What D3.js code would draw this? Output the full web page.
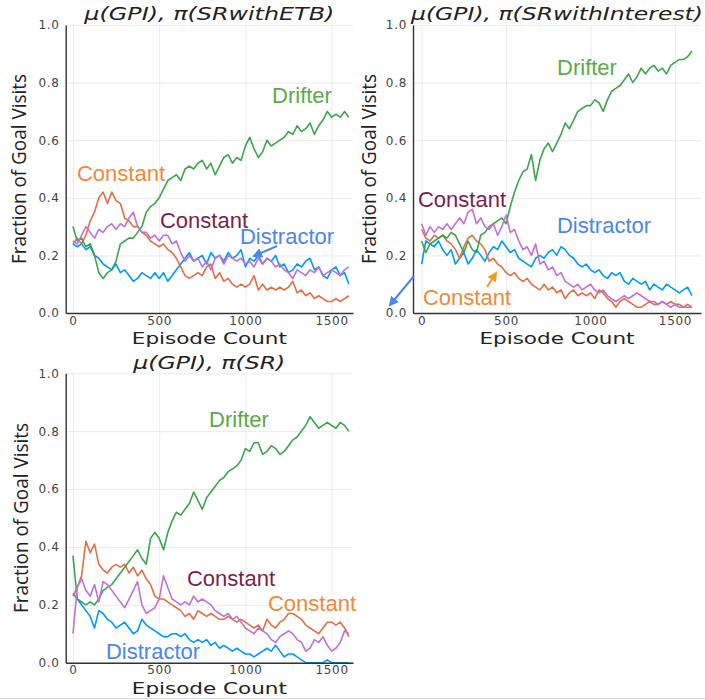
<!DOCTYPE html>
<html>
<head>
<meta charset="utf-8">
<script src="https://cdn.jsdelivr.net/npm/d3@7"></script>
<style>
  body { margin: 0; background: #fff; }
</style>
</head>
<body>
<div id="chart"></div>
<script>
// episode count at which each value was read (every 25 episodes)
const episodes = [0, 25, 50, 75, 100, 125, 150, 175, 200, 225, 250, 275, 300, 325, 350, 375, 400, 425, 450, 475,
  500, 525, 550, 575, 600, 625, 650, 675, 700, 725, 750, 775, 800, 825, 850, 875, 900, 925, 950, 975,
  1000, 1025, 1050, 1075, 1100, 1125, 1150, 1175, 1200, 1225, 1250, 1275, 1300, 1325, 1350, 1375, 1400, 1425, 1450, 1475,
  1500, 1525, 1550, 1575, 1600];

// mu(GPI), pi(SRwithETB)
const etbDistractor = [0.24,0.23,0.24,0.22,0.23,0.20,0.19,0.17,0.16,0.15, 0.17,0.14,0.15,0.13,0.11,0.12,0.14,0.13,0.12,0.14,
  0.12,0.14,0.11,0.13,0.15,0.17,0.19,0.21,0.18,0.19, 0.20,0.17,0.21,0.19,0.20,0.18,0.21,0.19,0.20,0.22,
  0.16,0.19,0.18,0.20,0.17,0.19,0.18,0.20,0.16,0.17, 0.14,0.15,0.17,0.16,0.18,0.19,0.15,0.16,0.13,0.12,
  0.15,0.16,0.13,0.14,0.10];
const etbConstantA = [0.24,0.26,0.24,0.27,0.32,0.35,0.40,0.42,0.38,0.42, 0.39,0.38,0.33,0.32,0.30,0.30,0.28,0.27,0.25,0.24,
  0.23,0.24,0.22,0.21,0.19,0.16,0.13,0.12,0.13,0.14, 0.13,0.16,0.17,0.12,0.14,0.11,0.12,0.10,0.09,0.10,
  0.09,0.10,0.13,0.08,0.10,0.08,0.09,0.08,0.09,0.08, 0.09,0.11,0.07,0.08,0.06,0.07,0.05,0.06,0.05,0.04,
  0.04,0.05,0.04,0.05,0.06];
const etbDrifter = [0.30,0.25,0.26,0.23,0.24,0.20,0.14,0.12,0.14,0.15, 0.18,0.24,0.25,0.26,0.26,0.28,0.30,0.35,0.37,0.38,
  0.40,0.43,0.46,0.47,0.48,0.46,0.50,0.51,0.50,0.52, 0.53,0.50,0.52,0.48,0.51,0.54,0.55,0.52,0.54,0.53,
  0.58,0.61,0.57,0.54,0.56,0.60,0.58,0.59,0.60,0.61, 0.63,0.62,0.65,0.63,0.64,0.66,0.62,0.65,0.67,0.70,
  0.68,0.69,0.68,0.70,0.68];
const etbConstantB = [0.25,0.24,0.27,0.30,0.28,0.26,0.29,0.28,0.30,0.31, 0.29,0.31,0.30,0.33,0.35,0.30,0.28,0.28,0.26,0.27,
  0.25,0.27,0.27,0.24,0.25,0.21,0.18,0.20,0.18,0.19, 0.16,0.18,0.15,0.19,0.20,0.17,0.20,0.19,0.18,0.19,
  0.17,0.18,0.16,0.19,0.17,0.19,0.18,0.16,0.17,0.15, 0.14,0.12,0.15,0.14,0.13,0.15,0.14,0.16,0.13,0.14,
  0.15,0.14,0.13,0.15,0.16];

// mu(GPI), pi(SRwithInterest)
const interestDistractor = [0.17,0.25,0.24,0.23,0.25,0.22,0.20,0.22,0.17,0.19, 0.21,0.17,0.19,0.22,0.20,0.18,0.21,0.23,0.22,0.25,
  0.23,0.21,0.22,0.19,0.18,0.17,0.16,0.19,0.20,0.19, 0.21,0.22,0.20,0.23,0.22,0.20,0.19,0.17,0.16,0.17,
  0.15,0.14,0.15,0.13,0.12,0.14,0.13,0.14,0.11,0.10, 0.12,0.11,0.10,0.11,0.08,0.10,0.09,0.08,0.10,0.09,
  0.08,0.07,0.08,0.09,0.06];
const interestConstantA = [0.29,0.26,0.25,0.27,0.26,0.27,0.25,0.24,0.22,0.19, 0.23,0.26,0.27,0.25,0.24,0.22,0.18,0.19,0.17,0.16,
  0.14,0.13,0.14,0.12,0.11,0.12,0.10,0.09,0.08,0.10, 0.08,0.09,0.07,0.08,0.05,0.07,0.08,0.06,0.07,0.06,
  0.07,0.05,0.08,0.07,0.05,0.04,0.02,0.04,0.05,0.04, 0.03,0.02,0.02,0.03,0.04,0.03,0.03,0.04,0.03,0.04,
  0.03,0.03,0.02,0.03,0.02];
const interestDrifter = [0.25,0.21,0.24,0.25,0.26,0.27,0.26,0.28,0.27,0.24, 0.21,0.25,0.22,0.21,0.27,0.28,0.30,0.31,0.32,0.33,
  0.31,0.37,0.42,0.46,0.49,0.50,0.55,0.46,0.53,0.57, 0.59,0.56,0.59,0.62,0.66,0.64,0.67,0.70,0.71,0.72,
  0.72,0.74,0.73,0.70,0.74,0.77,0.78,0.79,0.81,0.83, 0.80,0.82,0.85,0.83,0.85,0.86,0.84,0.85,0.83,0.86,
  0.87,0.88,0.88,0.89,0.91];
const interestConstantB = [0.31,0.27,0.30,0.28,0.30,0.29,0.31,0.29,0.31,0.33, 0.31,0.35,0.36,0.31,0.33,0.30,0.29,0.31,0.27,0.30,
  0.34,0.28,0.29,0.25,0.22,0.23,0.20,0.24,0.17,0.18, 0.15,0.16,0.13,0.14,0.11,0.10,0.09,0.10,0.08,0.09,
  0.10,0.08,0.07,0.08,0.06,0.05,0.04,0.05,0.06,0.05, 0.06,0.07,0.06,0.05,0.04,0.04,0.03,0.04,0.03,0.02,
  0.03,0.02,0.02,0.02,0.02];

// mu(GPI), pi(SR)
const srDistractor = [0.24,0.22,0.20,0.18,0.16,0.12,0.18,0.17,0.15,0.14, 0.12,0.13,0.14,0.12,0.10,0.11,0.15,0.13,0.12,0.11,
  0.10,0.09,0.09,0.10,0.10,0.09,0.10,0.08,0.07,0.08, 0.07,0.08,0.06,0.07,0.05,0.06,0.05,0.04,0.05,0.04,
  0.03,0.03,0.02,0.03,0.04,0.05,0.04,0.06,0.04,0.02, 0.03,0.03,0.02,0.01,0.00,0.00,0.00,0.00,0.00,0.01,
  0.00,0.00,0.00,0.00,0.00];
const srConstantA = [0.23,0.26,0.30,0.42,0.38,0.41,0.34,0.32,0.31,0.33, 0.34,0.33,0.34,0.31,0.33,0.30,0.32,0.29,0.27,0.23,
  0.22,0.22,0.21,0.20,0.19,0.18,0.16,0.17,0.15,0.18, 0.17,0.16,0.17,0.16,0.15,0.15,0.16,0.15,0.14,0.15,
  0.14,0.13,0.12,0.13,0.11,0.15,0.13,0.12,0.14,0.15, 0.17,0.17,0.16,0.15,0.13,0.12,0.11,0.10,0.12,0.14,
  0.14,0.13,0.14,0.12,0.09];
const srDrifter = [0.37,0.22,0.21,0.20,0.21,0.20,0.22,0.25,0.26,0.27, 0.29,0.31,0.33,0.35,0.37,0.39,0.36,0.34,0.43,0.45,
  0.43,0.39,0.45,0.49,0.52,0.51,0.53,0.55,0.59,0.56, 0.53,0.57,0.59,0.61,0.63,0.64,0.66,0.67,0.68,0.70,
  0.74,0.73,0.76,0.76,0.72,0.73,0.75,0.74,0.72,0.73, 0.75,0.77,0.78,0.80,0.82,0.85,0.83,0.81,0.82,0.83,
  0.82,0.81,0.83,0.82,0.80];
const srConstantB = [0.10,0.26,0.29,0.25,0.23,0.27,0.21,0.28,0.27,0.25, 0.23,0.21,0.19,0.22,0.25,0.28,0.20,0.17,0.18,0.19,
  0.22,0.30,0.26,0.22,0.21,0.20,0.21,0.20,0.23,0.21, 0.22,0.21,0.20,0.18,0.17,0.16,0.17,0.15,0.16,0.14,
  0.12,0.11,0.10,0.12,0.11,0.10,0.08,0.07,0.09,0.10, 0.11,0.10,0.08,0.07,0.04,0.05,0.08,0.07,0.09,0.06,
  0.04,0.05,0.07,0.11,0.10];

const xTicks = [0, 500, 1000, 1500];
const yTicks = [0, 0.2, 0.4, 0.6, 0.8, 1.0];

// Plots.jl default palette
const lineColors = ['#009AF9', '#E26F46', '#3DA44D', '#C271D2'];
const noteColors = { drifter: '#5BAA4A', orange: '#EE8A3A', maroon: '#7A1F4E', blue: '#4A88E8' };

const panels = [
  {
    title: 'μ(GPI), π(SRwithETB)', titleY: 20, titleLen: 250,
    xRange: [65.7, 353], xDomain: [-42, 1624], yRange: [313, 25],
    ylabX: 18, xlabY: 344,
    series: [etbDistractor, etbConstantA, etbDrifter, etbConstantB],
    notes: [
      { text: 'Drifter', x: 302, y: 103, c: noteColors.drifter },
      { text: 'Constant', x: 121, y: 181, c: noteColors.orange },
      { text: 'Constant', x: 204, y: 228, c: noteColors.maroon },
      { text: 'Distractor', x: 287, y: 244, c: noteColors.blue }
    ],
    arrows: [{ x1: 277, y1: 246, x2: 254, y2: 256, c: noteColors.blue }]
  },
  {
    title: 'μ(GPI), π(SRwithInterest)', titleY: 20, titleLen: 292,
    xRange: [413, 701], xDomain: [-51, 1654], yRange: [313, 25],
    ylabX: 368, xlabY: 344,
    series: [interestDistractor, interestConstantA, interestDrifter, interestConstantB],
    notes: [
      { text: 'Drifter', x: 587, y: 75, c: noteColors.drifter },
      { text: 'Constant', x: 462, y: 207, c: noteColors.maroon },
      { text: 'Distractor', x: 604, y: 233, c: noteColors.blue },
      { text: 'Constant', x: 467, y: 305, c: noteColors.orange }
    ],
    arrows: [
      { x1: 487, y1: 287, x2: 496, y2: 273, c: '#F29A1F' },
      { x1: 414, y1: 276, x2: 390, y2: 305, c: noteColors.blue }
    ]
  },
  {
    title: 'μ(GPI), π(SR)', titleY: 369, titleLen: 152,
    xRange: [65.7, 353], xDomain: [-42, 1624], yRange: [662.7, 373.3],
    ylabX: 20, xlabY: 694,
    series: [srDistractor, srConstantA, srDrifter, srConstantB],
    notes: [
      { text: 'Drifter', x: 239, y: 427, c: noteColors.drifter },
      { text: 'Constant', x: 231, y: 586, c: noteColors.maroon },
      { text: 'Constant', x: 312, y: 611, c: noteColors.orange },
      { text: 'Distractor', x: 153, y: 659, c: noteColors.blue }
    ],
    arrows: []
  }
];

const svg = d3.select('#chart')
  .append('svg')
  .attr('width', 705)
  .attr('height', 700)
  .style('font-family', '"DejaVu Sans", sans-serif');

const defs = svg.append('defs');

function arrowMarker(color) {
  const id = 'head' + color.replace('#', '');
  if (defs.select('#' + id).empty()) {
    defs.append('marker')
      .attr('id', id)
      .attr('viewBox', '0 0 10 10')
      .attr('refX', 8).attr('refY', 5)
      .attr('markerWidth', 5).attr('markerHeight', 5)
      .attr('orient', 'auto')
      .append('path')
      .attr('d', 'M0,0 L10,5 L0,10 z')
      .attr('fill', color);
  }
  return `url(#${id})`;
}

function drawPanel(p) {
  const x = d3.scaleLinear().domain(p.xDomain).range(p.xRange);
  const y = d3.scaleLinear().domain([0, 1]).range(p.yRange);
  const g = svg.append('g');
  const plotH = p.yRange[0] - p.yRange[1];
  const plotW = p.xRange[1] - p.xRange[0];

  // grid lines
  g.append('g')
    .attr('transform', `translate(0,${p.yRange[0]})`)
    .call(d3.axisBottom(x).tickValues(xTicks).tickSize(-plotH).tickFormat(''))
    .call(s => s.select('.domain').remove())
    .selectAll('line').attr('stroke', '#ebebeb').attr('stroke-width', 1);
  g.append('g')
    .attr('transform', `translate(${p.xRange[0]},0)`)
    .call(d3.axisLeft(y).tickValues(yTicks).tickSize(-plotW).tickFormat(''))
    .call(s => s.select('.domain').remove())
    .selectAll('line').attr('stroke', '#ebebeb').attr('stroke-width', 1);

  // series
  const line = d3.line()
    .x((d, i) => x(episodes[i]))
    .y(d => y(d));
  p.series.forEach((vals, k) => {
    g.append('path')
      .datum(vals)
      .attr('d', line)
      .attr('fill', 'none')
      .attr('stroke', lineColors[k])
      .attr('stroke-width', 1.6)
      .attr('stroke-linejoin', 'round');
  });

  // axes
  const xAxis = g.append('g')
    .attr('transform', `translate(0,${p.yRange[0]})`)
    .call(d3.axisBottom(x).tickValues(xTicks).tickSize(0).tickSizeOuter(0).tickPadding(3).tickFormat(d3.format('d')));
  const yAxis = g.append('g')
    .attr('transform', `translate(${p.xRange[0]},0)`)
    .call(d3.axisLeft(y).tickValues(yTicks).tickSize(0).tickSizeOuter(0).tickPadding(6).tickFormat(d3.format('.1f')));
  [xAxis, yAxis].forEach(a => {
    a.select('.domain').attr('stroke', '#333').attr('stroke-width', 1.4);
    a.selectAll('text')
      .attr('fill', '#444')
      .style('font-family', '"DejaVu Sans", sans-serif')
      .style('font-size', '12px')
      .style('letter-spacing', '0.7px');
  });

  // titles and axis labels
  g.append('text')
    .attr('x', (p.xRange[0] + p.xRange[1]) / 2)
    .attr('y', p.titleY)
    .attr('text-anchor', 'middle')
    .attr('textLength', p.titleLen)
    .attr('lengthAdjust', 'spacingAndGlyphs')
    .style('font-style', 'italic')
    .style('font-size', '18px')
    .attr('fill', '#222')
    .text(p.title);

  g.append('text')
    .attr('x', (p.xRange[0] + p.xRange[1]) / 2)
    .attr('y', p.xlabY)
    .attr('text-anchor', 'middle')
    .attr('textLength', 155)
    .attr('lengthAdjust', 'spacingAndGlyphs')
    .style('font-size', '16px')
    .attr('fill', '#222')
    .text('Episode Count');

  g.append('text')
    .attr('transform', `translate(${p.ylabX},${(p.yRange[0] + p.yRange[1]) / 2}) rotate(-90)`)
    .attr('text-anchor', 'middle')
    .attr('dominant-baseline', 'central')
    .attr('textLength', 190)
    .attr('lengthAdjust', 'spacingAndGlyphs')
    .style('font-family', '"Open Sans", sans-serif')
    .style('font-size', '20px')
    .attr('fill', '#222')
    .text('Fraction of Goal Visits');

  // annotations
  p.notes.forEach(n => {
    g.append('text')
      .attr('x', n.x).attr('y', n.y)
      .attr('text-anchor', 'middle')
      .style('font-family', '"Liberation Sans", Arial, sans-serif')
      .style('font-size', '22px')
      .attr('fill', n.c)
      .text(n.text);
  });
  p.arrows.forEach(a => {
    g.append('line')
      .attr('x1', a.x1).attr('y1', a.y1)
      .attr('x2', a.x2).attr('y2', a.y2)
      .attr('stroke', a.c)
      .attr('stroke-width', 2)
      .attr('marker-end', arrowMarker(a.c));
  });
}

panels.forEach(drawPanel);

// thin border line at the bottom of the figure
svg.append('line')
  .attr('x1', 0).attr('x2', 705)
  .attr('y1', 698.5).attr('y2', 698.5)
  .attr('stroke', '#d9d9d9')
  .attr('stroke-width', 1);
</script>
</body>
</html>
